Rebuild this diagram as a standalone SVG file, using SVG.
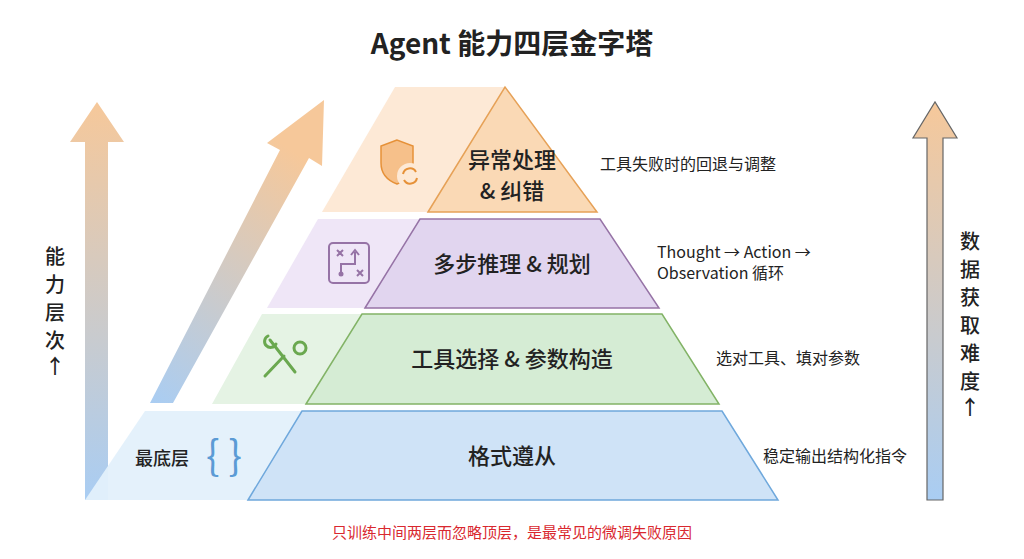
<svg xmlns="http://www.w3.org/2000/svg" width="1024" height="559" viewBox="0 0 1024 559">
<defs>
<linearGradient id="g1" x1="0" y1="1" x2="0" y2="0"><stop offset="0" stop-color="#a9cdf3"/><stop offset="1" stop-color="#f6c89a"/></linearGradient>
<linearGradient id="g2" x1="0" y1="1" x2="0.4" y2="0"><stop offset="0" stop-color="#a9cdf3"/><stop offset="1" stop-color="#f6c89a"/></linearGradient>
<style>
text{font-family:"Noto Sans CJK SC","Liberation Sans",sans-serif;fill:#222}
.lbl{font-size:22px;font-weight:500;text-anchor:middle}
.side{font-size:16px}
.v{font-size:20px;font-weight:500;text-anchor:middle}
</style>
</defs>
<rect width="1024" height="559" fill="#fff"/>
<text x="512" y="54" font-size="28" font-weight="bold" text-anchor="middle">Agent 能力四层金字塔</text>
<g id="arrows">
<path d="M85,500 L85,142 L70,142 L97,102 L124,142 L108,142 L108,500 Z" fill="url(#g1)"/>
<path d="M150,403 L280,150 L267,143 L324,100 L322,166 L309,158 L173,403 Z" fill="url(#g2)"/>
<path d="M927,500 L927,138 L913,138 L935,102 L957,138 L943,138 L943,500 Z" fill="url(#g1)" stroke="#666" stroke-width="1.2"/>
</g>
<g id="layer1">
<path d="M85,500 L145,411 L302,411 L248,500 Z" fill="#e3f0fb" opacity="0.95"/>
<path d="M248,500 L302,411 L722,411 L778,500 Z" fill="#cfe3f7" stroke="#6fa8dc" stroke-width="1.5"/>
<text class="lbl" x="512" y="464">格式遵从</text>
<text x="135" y="465" font-size="18" font-weight="500">最底层</text>
<text x="206" y="470" font-size="40" style="fill:#5b9bd5" font-family="Liberation Sans">{ }</text>
<text class="side" x="763" y="462">稳定输出结构化指令</text>
</g>
<g id="layer2">
<path d="M212,404 L262,314 L362,314 L306,404 Z" fill="#e5f3e4"/>
<path d="M306,404 L362,314 L662,314 L719,404 Z" fill="#d5ecd4" stroke="#82b366" stroke-width="1.5"/>
<text class="lbl" x="512" y="367">工具选择 &amp; 参数构造</text>
<g fill="none" stroke="#6aa84f" stroke-width="3" stroke-linecap="round">
<path d="M270,340 L295,372"/><path d="M265,376 L284,356"/>
<circle cx="300" cy="348" r="6"/><path d="M268,336 a6,6 0 1 0 8,8"/>
</g>
<text class="side" x="716" y="364">选对工具、填对参数</text>
</g>
<g id="layer3">
<path d="M267,308 L318,219 L420,219 L365,308 Z" fill="#efe6f7"/>
<path d="M365,308 L420,219 L600,219 L659,308 Z" fill="#e1d5ef" stroke="#9673a6" stroke-width="1.5"/>
<text class="lbl" x="512" y="272">多步推理 &amp; 规划</text>
<rect x="329" y="243" width="40" height="40" rx="4" fill="none" stroke="#9673a6" stroke-width="2"/>
<path d="M341,274 L341,264 L355,264 L355,252" fill="none" stroke="#9673a6" stroke-width="2"/>
<path d="M351,255 L355,250 L359,255" fill="none" stroke="#9673a6" stroke-width="2"/>
<path d="M337,250 l6,6 m0,-6 l-6,6 M357,270 l6,6 m0,-6 l-6,6" stroke="#9673a6" stroke-width="2"/>
<circle cx="341" cy="274" r="2.5" fill="#9673a6"/>
<text class="side" x="657" y="258">Thought → Action →</text>
<text class="side" x="657" y="279">Observation 循环</text>
</g>
<g id="layer4">
<path d="M322,212 L395,87 L505,87 L428,212 Z" fill="#fde9d6"/>
<path d="M428,212 L505,87 L597,212 Z" fill="#fad9b5" stroke="#e6a157" stroke-width="1.5"/>
<text class="lbl" x="512" y="168">异常处理</text>
<text class="lbl" x="512" y="199">&amp; 纠错</text>
<path d="M397,140 L381,146 L381,163 Q381,178 397,184 Q413,178 413,163 L413,146 Z" fill="#f6c08a" stroke="#e69138" stroke-width="1.5"/>
<circle cx="410" cy="176" r="13" fill="#fde9d6"/>
<path d="M403,174 A7,7 0 0 1 416,172 M417,178 A7,7 0 0 1 404,180" fill="none" stroke="#e69138" stroke-width="2"/>
<text class="side" x="600" y="170">工具失败时的回退与调整</text>
</g>
<g id="axislabels">
<text class="v" x="55" y="264">能</text>
<text class="v" x="55" y="292">力</text>
<text class="v" x="55" y="320">层</text>
<text class="v" x="55" y="348">次</text>
<text class="v" x="55" y="374">↑</text>
<text class="v" x="970" y="249">数</text>
<text class="v" x="970" y="277">据</text>
<text class="v" x="970" y="305">获</text>
<text class="v" x="970" y="333">取</text>
<text class="v" x="970" y="361">难</text>
<text class="v" x="970" y="389">度</text>
<text class="v" x="970" y="415">↑</text>
</g>
<text x="512" y="538" font-size="15" text-anchor="middle" style="fill:#d9282f">只训练中间两层而忽略顶层，是最常见的微调失败原因</text>
</svg>
